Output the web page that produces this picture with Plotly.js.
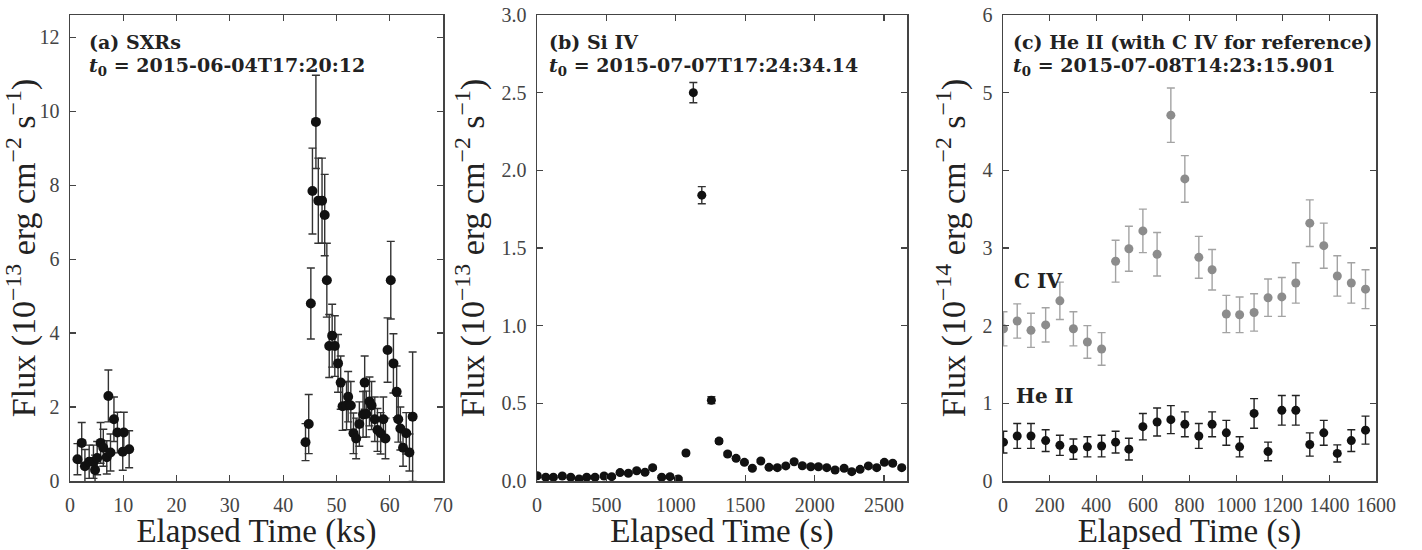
<!DOCTYPE html>
<html>
<head>
<meta charset="utf-8">
<script src="https://cdn.plot.ly/plotly-3.0.1.min.js"></script>
<style>html,body{margin:0;padding:0;background:#fff;}#chart{width:1422px;height:550px;}</style>
</head>
<body>
<div id="chart"></div>
<script>
// ---------- Panel (a): SXRs ----------
const sxrTime = [1.4, 2.2, 2.8, 3.6, 4.4, 4.7, 5.1, 5.75, 6.25, 6.9, 7.2, 7.6, 8.25, 8.9, 9.9, 10.1, 11.1,
  44.2, 44.8, 45.2, 45.5, 46.15, 46.6, 47.3, 47.8, 48.2, 48.65, 49.2, 49.7, 50.3, 50.8, 51.15, 51.9, 52.2, 52.7,
  53.2, 53.7, 54.3, 55.0, 55.3, 55.6, 56.2, 56.6, 57.2, 57.7, 58.3, 58.8, 59.2, 59.6, 60.2, 60.7, 61.3, 61.6,
  62.0, 62.5, 63.1, 63.7, 64.3];
const sxrFlux = [0.59, 1.03, 0.40, 0.52, 0.52, 0.30, 0.62, 1.03, 0.90, 0.64, 2.30, 0.77, 1.67, 1.31, 0.79, 1.31, 0.86,
  1.05, 1.54, 4.80, 7.84, 9.71, 7.58, 7.58, 7.19, 5.43, 3.65, 3.93, 3.65, 3.18, 2.66, 2.02, 2.04, 2.28, 2.04,
  1.29, 1.15, 1.54, 1.80, 2.66, 1.81, 2.15, 2.04, 1.67, 1.38, 1.29, 1.67, 1.15, 3.54, 5.43, 3.18, 2.41, 1.67,
  1.42, 0.90, 1.29, 0.77, 1.74];
const sxrErr = [0.42, 0.55, 0.45, 0.45, 0.45, 0.40, 0.45, 0.55, 0.50, 0.45, 0.70, 0.50, 0.60, 0.55, 0.50, 0.55, 0.50,
  0.50, 0.80, 0.96, 1.16, 1.26, 1.15, 1.15, 1.10, 1.00, 0.85, 0.85, 0.82, 0.78, 0.72, 0.65, 0.65, 0.68, 0.65,
  0.55, 0.55, 0.60, 0.62, 0.72, 0.62, 0.66, 0.65, 0.60, 0.58, 0.56, 0.60, 0.55, 0.87, 1.05, 0.80, 0.70, 0.62,
  0.58, 0.50, 0.56, 0.50, 1.75];

// ---------- Panel (b): Si IV ----------
const siTime = [2, 63, 118, 182, 243, 303, 358, 418, 483, 538, 598, 658, 718, 778, 833, 898, 958, 1018, 1073,
  1126, 1187, 1256, 1311, 1373, 1434, 1494, 1551, 1612, 1671, 1731, 1792, 1852, 1911, 1972, 2027, 2087, 2147,
  2212, 2267, 2327, 2387, 2447, 2502, 2562, 2627];
const siFlux = [0.034, 0.024, 0.024, 0.032, 0.024, 0.013, 0.024, 0.024, 0.032, 0.028, 0.054, 0.050, 0.066, 0.056,
  0.086, 0.024, 0.028, 0.013, 0.180, 2.50, 1.84, 0.52, 0.257, 0.174, 0.146, 0.120, 0.082, 0.129, 0.088, 0.086,
  0.097, 0.124, 0.098, 0.092, 0.092, 0.086, 0.071, 0.082, 0.060, 0.075, 0.097, 0.086, 0.120, 0.114, 0.086];
const siErr = [0.01, 0.01, 0.01, 0.01, 0.01, 0.01, 0.01, 0.01, 0.01, 0.01, 0.01, 0.01, 0.01, 0.01,
  0.01, 0.01, 0.01, 0.01, 0.012, 0.065, 0.055, 0.022, 0.014, 0.012, 0.01, 0.01, 0.01, 0.01, 0.01, 0.01,
  0.01, 0.01, 0.01, 0.01, 0.01, 0.01, 0.01, 0.01, 0.01, 0.01, 0.01, 0.01, 0.01, 0.01, 0.01];

// ---------- Panel (c): He II and C IV ----------
const ionTime = [2, 61, 120, 183, 244, 302, 362, 423, 483, 540, 600, 661, 720, 780, 840, 897, 958, 1015, 1077,
  1137, 1196, 1256, 1316, 1376, 1434, 1494, 1555];
const civFlux = [1.96, 2.06, 1.94, 2.01, 2.32, 1.96, 1.79, 1.70, 2.83, 2.99, 3.22, 2.92, 4.71, 3.89, 2.88, 2.72,
  2.15, 2.14, 2.17, 2.36, 2.37, 2.55, 3.32, 3.03, 2.64, 2.55, 2.47];
const civErr = [0.22, 0.22, 0.22, 0.22, 0.24, 0.22, 0.21, 0.21, 0.27, 0.29, 0.28, 0.28, 0.35, 0.30, 0.27, 0.26,
  0.24, 0.23, 0.24, 0.24, 0.25, 0.26, 0.30, 0.29, 0.26, 0.26, 0.25];
const heiiFlux = [0.50, 0.58, 0.58, 0.52, 0.46, 0.41, 0.44, 0.45, 0.50, 0.41, 0.70, 0.76, 0.79, 0.73, 0.58, 0.73,
  0.62, 0.44, 0.87, 0.38, 0.91, 0.91, 0.47, 0.62, 0.355, 0.52, 0.655];
const heiiErr = [0.14, 0.16, 0.16, 0.14, 0.13, 0.13, 0.13, 0.14, 0.14, 0.14, 0.17, 0.18, 0.18, 0.16, 0.16, 0.16,
  0.16, 0.13, 0.19, 0.12, 0.19, 0.19, 0.15, 0.16, 0.11, 0.14, 0.18];

// ---------- Labels ----------
const panelLabels = ['(a) SXRs', '(b) Si IV', '(c) He II (with C IV for reference)'];
const epochLabels = ['2015-06-04T17:20:12', '2015-07-07T17:24:34.14', '2015-07-08T14:23:15.901'];
const seriesLabels = ['C IV', 'He II'];
const xTitles = ['Elapsed Time (ks)', 'Elapsed Time (s)', 'Elapsed Time (s)'];
const yExponents = ['−13', '−13', '−14'];

const SERIF = 'Liberation Serif, Times New Roman, serif';
const BOLDSERIF = 'DejaVu Serif, serif';
const W = 1422, H = 550;
const px = v => v / W;
const py = v => 1 - v / H;

const traces = [
  {x: sxrTime, y: sxrFlux, xaxis: 'x', yaxis: 'y', type: 'scatter', mode: 'markers', name: 'SXRs',
   marker: {color: '#111', size: 10},
   error_y: {type: 'data', array: sxrErr, visible: true, color: '#333', thickness: 1.4, width: 4}},
  {x: siTime, y: siFlux, xaxis: 'x2', yaxis: 'y2', type: 'scatter', mode: 'markers', name: 'Si IV',
   marker: {color: '#111', size: 9},
   error_y: {type: 'data', array: siErr, visible: true, color: '#333', thickness: 1.4, width: 4}},
  {x: ionTime, y: civFlux, xaxis: 'x3', yaxis: 'y3', type: 'scatter', mode: 'markers', name: seriesLabels[0],
   marker: {color: '#8c8c8c', size: 9},
   error_y: {type: 'data', array: civErr, visible: true, color: '#a3a3a3', thickness: 1.4, width: 4}},
  {x: ionTime, y: heiiFlux, xaxis: 'x3', yaxis: 'y3', type: 'scatter', mode: 'markers', name: seriesLabels[1],
   marker: {color: '#111', size: 9},
   error_y: {type: 'data', array: heiiErr, visible: true, color: '#222', thickness: 1.4, width: 4}}
];

function axisBase() {
  return {
    showline: true, mirror: 'allticks', linecolor: '#444', linewidth: 1.5,
    ticks: 'inside', ticklen: 6, tickwidth: 1.2, tickcolor: '#444',
    showgrid: false, zeroline: false, automargin: false,
    ticklabelstandoff: 5,
    tickfont: {family: SERIF, size: 20, color: '#444'}
  };
}
function xAxis(i, dom, range, dtick) {
  return Object.assign(axisBase(), {
    domain: dom, range: range, dtick: dtick, tick0: 0, anchor: 'y' + (i === 1 ? '' : i),
    title: {text: xTitles[i - 1], font: {family: SERIF, size: 33, color: '#222'}, standoff: 10}
  });
}
function yAxis(i, range, dtick, fmt) {
  const a = Object.assign(axisBase(), {
    domain: [py(481), py(15)], range: range, dtick: dtick, tick0: 0, anchor: 'x' + (i === 1 ? '' : i),
    title: {text: 'Flux (10<sup>' + yExponents[i - 1] + '</sup> erg cm<sup>−2</sup> s<sup>−1</sup>)',
            font: {family: SERIF, size: 34, color: '#222'}, standoff: 6}
  });
  if (fmt) a.tickformat = fmt;
  return a;
}

const annots = [];
const labelX = [88, 548, 1012];
for (let i = 0; i < 3; i++) {
  annots.push({xref: 'paper', yref: 'paper', x: px(labelX[i]), y: py(42), xanchor: 'left', yanchor: 'middle',
    showarrow: false, borderpad: 0, text: '<b>' + panelLabels[i] + '</b>',
    font: {family: BOLDSERIF, size: 19, color: '#222'}});
  annots.push({xref: 'paper', yref: 'paper', x: px(labelX[i]), y: py(66), xanchor: 'left', yanchor: 'middle',
    showarrow: false, borderpad: 0, text: '<b><i>t</i><sub>0</sub> = ' + epochLabels[i] + '</b>',
    font: {family: BOLDSERIF, size: 19, color: '#222'}});
}
annots.push({xref: 'paper', yref: 'paper', x: px(1012), y: py(281), xanchor: 'left', yanchor: 'middle',
  showarrow: false, text: '<b>' + seriesLabels[0] + '</b>', font: {family: BOLDSERIF, size: 20, color: '#222'}});
annots.push({xref: 'paper', yref: 'paper', x: px(1014), y: py(396), xanchor: 'left', yanchor: 'middle',
  showarrow: false, text: '<b>' + seriesLabels[1] + '</b>', font: {family: BOLDSERIF, size: 20, color: '#222'}});

const layout = {
  width: W, height: H,
  margin: {l: 0, r: 0, t: 0, b: 0},
  paper_bgcolor: '#fff', plot_bgcolor: '#fff',
  showlegend: false,
  font: {family: SERIF, color: '#222'},
  xaxis: xAxis(1, [px(70), px(443)], [0, 70], 10),
  xaxis2: xAxis(2, [px(537), px(907)], [0, 2665], 500),
  xaxis3: xAxis(3, [px(1003), px(1376)], [0, 1600], 200),
  yaxis: yAxis(1, [0, 12.6], 2),
  yaxis2: yAxis(2, [0, 3.0], 0.5, '.1f'),
  yaxis3: yAxis(3, [0, 6], 1),
  annotations: annots
};

Plotly.newPlot('chart', traces, layout, {displayModeBar: false, staticPlot: true});
</script>
</body>
</html>
